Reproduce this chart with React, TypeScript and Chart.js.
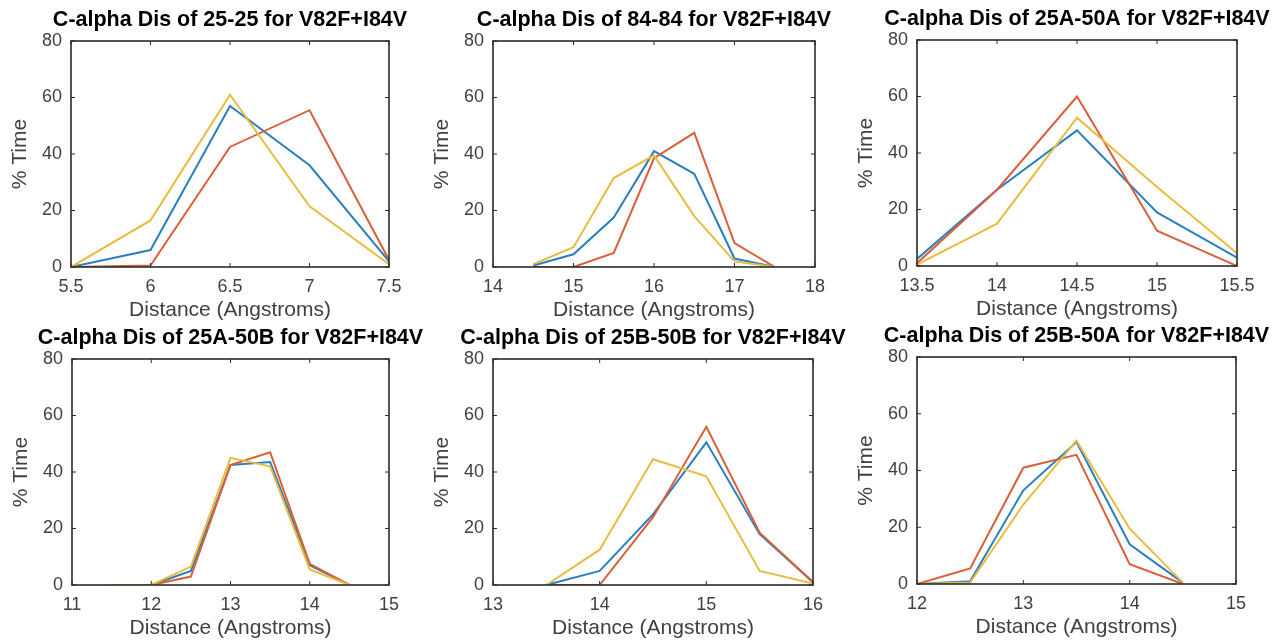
import React, { useEffect, useRef } from "react";
import { Chart, registerables } from "chart.js";

Chart.register(...registerables);

// ---------- data ----------
const yTicks = [0, 20, 40, 60, 80];

const p1Title = "C-alpha Dis of 25-25 for V82F+I84V";
const p1X = [5.5, 6, 6.5, 7, 7.5];
const p1Blue = [0, 6, 57, 36, 2];
const p1Red = [0, 0.5, 42.5, 55.5, 2.5];
const p1Yellow = [0, 16.5, 61, 21.5, 1];

const p2Title = "C-alpha Dis of 84-84 for V82F+I84V";
const p2X = [14.5, 15, 15.5, 16, 16.5, 17, 17.5];
const p2Blue = [0.5, 4.5, 17.5, 41, 33, 3, 0];
const p2Red = [0, 0, 5, 38.5, 47.5, 8.5, 0];
const p2Yellow = [1, 7, 31.5, 39.5, 18, 2, 0];

const p3Title = "C-alpha Dis of 25A-50A for V82F+I84V";
const p3X = [13.5, 14, 14.5, 15, 15.5];
const p3Blue = [2.5, 27, 48, 19, 3];
const p3Red = [1, 27, 60, 12.5, 0];
const p3Yellow = [0.5, 15, 52.5, 28, 4.5];

const p4Title = "C-alpha Dis of 25A-50B for V82F+I84V";
const p4X = [11.5, 12, 12.5, 13, 13.5, 14, 14.5];
const p4Blue = [0, 0, 5, 42.5, 43.5, 7, 0];
const p4Red = [0, 0, 3, 42.5, 47, 7.5, 0];
const p4Yellow = [0, 0, 6.5, 45, 42, 5.5, 0];

const p5Title = "C-alpha Dis of 25B-50B for V82F+I84V";
const p5X = [13.5, 14, 14.5, 15, 15.5, 16];
const p5Blue = [0, 5, 25, 50.5, 18, 1];
const p5Red = [0, 0, 24, 56, 18.5, 1];
const p5Yellow = [0, 12.5, 44.5, 38.5, 5, 0.5];

const p6Title = "C-alpha Dis of 25B-50A for V82F+I84V";
const p6X = [12, 12.5, 13, 13.5, 14, 14.5];
const p6Blue = [0, 1, 33, 50, 14, 0.5];
const p6Red = [0, 5.5, 41, 45.5, 7, 0];
const p6Yellow = [0, 0.5, 28, 50.5, 19.5, 0.5];

const xLabel = "Distance (Angstroms)";
const yLabel = "% Time";

// ---------- layout / style ----------
const FONT = '"Liberation Sans", Arial, Helvetica, sans-serif';
const BLUE = "#2a80bf";
const RED = "#d8603a";
const YELLOW = "#e8bc40";
const TEXT_GRAY = "#404040";
const Y_AXIS_W = 71;
const TOP_PAD = 41;
const RIGHT_PAD = 40;
const X_AXIS_H = 56;

type PanelCfg = {
  title: string;
  x: number[];
  blue: number[];
  red: number[];
  yellow: number[];
  xMin: number;
  xMax: number;
  xStep: number;
  plot: { l: number; r: number; t: number; b: number };
};

const panels: PanelCfg[] = [
  { title: p1Title, x: p1X, blue: p1Blue, red: p1Red, yellow: p1Yellow, xMin: 5.5, xMax: 7.5, xStep: 0.5, plot: { l: 71, r: 389, t: 41, b: 267 } },
  { title: p2Title, x: p2X, blue: p2Blue, red: p2Red, yellow: p2Yellow, xMin: 14, xMax: 18, xStep: 1, plot: { l: 493, r: 815, t: 41, b: 267 } },
  { title: p3Title, x: p3X, blue: p3Blue, red: p3Red, yellow: p3Yellow, xMin: 13.5, xMax: 15.5, xStep: 0.5, plot: { l: 917, r: 1237, t: 40, b: 266 } },
  { title: p4Title, x: p4X, blue: p4Blue, red: p4Red, yellow: p4Yellow, xMin: 11, xMax: 15, xStep: 1, plot: { l: 72, r: 389, t: 359, b: 585 } },
  { title: p5Title, x: p5X, blue: p5Blue, red: p5Red, yellow: p5Yellow, xMin: 13, xMax: 16, xStep: 1, plot: { l: 493, r: 813, t: 359, b: 585 } },
  { title: p6Title, x: p6X, blue: p6Blue, red: p6Red, yellow: p6Yellow, xMin: 12, xMax: 15, xStep: 1, plot: { l: 917, r: 1236, t: 357, b: 584 } },
];

const framePlugin = {
  id: "matlabFrame",
  afterDatasetsDraw(chart: any, _args: any, opts: any) {
    const { ctx, chartArea: a, scales } = chart;
    ctx.save();
    ctx.strokeStyle = "#2b2b2b";
    ctx.lineWidth = 1;
    const tl = 4;
    ctx.beginPath();
    scales.x.ticks.forEach((t: any) => {
      const px = scales.x.getPixelForValue(t.value);
      ctx.moveTo(px, a.bottom);
      ctx.lineTo(px, a.bottom - tl);
      ctx.moveTo(px, a.top);
      ctx.lineTo(px, a.top + tl);
    });
    scales.y.ticks.forEach((t: any) => {
      const py = scales.y.getPixelForValue(t.value);
      ctx.moveTo(a.left, py);
      ctx.lineTo(a.left + tl, py);
      ctx.moveTo(a.right, py);
      ctx.lineTo(a.right - tl, py);
    });
    ctx.stroke();
    ctx.lineWidth = 1.6;
    ctx.strokeRect(a.left, a.top, a.right - a.left, a.bottom - a.top);
    ctx.fillStyle = "#000";
    ctx.font = `bold 21.5px ${FONT}`;
    ctx.textAlign = "center";
    ctx.textBaseline = "middle";
    ctx.fillText(opts.text, (a.left + a.right) / 2, a.top - 21);
    ctx.restore();
  },
};

const fmt = (v: any) => String(Number(v));

function Panel({ cfg }: { cfg: PanelCfg }) {
  const ref = useRef<HTMLCanvasElement | null>(null);
  const left = cfg.plot.l - Y_AXIS_W;
  const top = cfg.plot.t - TOP_PAD;
  const width = cfg.plot.r - cfg.plot.l + Y_AXIS_W + RIGHT_PAD;
  const height = cfg.plot.b - cfg.plot.t + TOP_PAD + X_AXIS_H;

  useEffect(() => {
    const mk = (vals: number[]) => cfg.x.map((x, i) => ({ x, y: vals[i] }));
    const ds = (label: string, vals: number[], color: string, order: number) => ({
      label,
      data: mk(vals),
      borderColor: color,
      backgroundColor: color,
      borderWidth: 2,
      pointRadius: 0,
      tension: 0,
      order,
    });
    const chart = new Chart(ref.current as HTMLCanvasElement, {
      type: "line",
      data: {
        datasets: [ds("1", cfg.blue, BLUE, 3), ds("2", cfg.red, RED, 2), ds("3", cfg.yellow, YELLOW, 1)],
      },
      options: {
        responsive: false,
        animation: false,
        layout: { padding: { top: TOP_PAD, right: RIGHT_PAD, left: 0, bottom: 0 } },
        plugins: {
          legend: { display: false },
          tooltip: { enabled: false },
          title: { display: false },
          matlabFrame: { text: cfg.title },
        } as any,
        scales: {
          x: {
            type: "linear",
            min: cfg.xMin,
            max: cfg.xMax,
            grid: { display: false, drawTicks: false },
            border: { display: false },
            ticks: {
              stepSize: cfg.xStep,
              color: TEXT_GRAY,
              font: { family: FONT, size: 18 },
              padding: 9,
              maxRotation: 0,
              autoSkip: false,
              callback: fmt,
            },
            title: {
              display: true,
              text: xLabel,
              color: TEXT_GRAY,
              font: { family: FONT, size: 21 },
              padding: { top: 0, bottom: 0 },
            },
            afterFit: (s: any) => {
              s.height = X_AXIS_H;
            },
          },
          y: {
            type: "linear",
            min: yTicks[0],
            max: yTicks[yTicks.length - 1],
            grid: { display: false, drawTicks: false },
            border: { display: false },
            afterBuildTicks: (s: any) => {
              s.ticks = yTicks.map((v) => ({ value: v }));
            },
            ticks: {
              color: TEXT_GRAY,
              font: { family: FONT, size: 18 },
              padding: 9,
              callback: fmt,
            },
            title: {
              display: true,
              text: yLabel,
              color: TEXT_GRAY,
              font: { family: FONT, size: 21 },
              padding: { top: 8, bottom: 0 },
            },
            afterFit: (s: any) => {
              s.width = Y_AXIS_W;
            },
          },
        },
      },
      plugins: [framePlugin],
    } as any);
    return () => chart.destroy();
  }, []);

  return (
    <canvas
      ref={ref}
      width={width}
      height={height}
      style={{ position: "absolute", left, top, width, height }}
    />
  );
}

export default function App() {
  return (
    <div
      style={{
        position: "absolute",
        left: 0,
        top: 0,
        width: 1282,
        height: 640,
        overflow: "hidden",
        background: "#fff",
      }}
    >
      {panels.map((p, i) => (
        <Panel key={i} cfg={p} />
      ))}
    </div>
  );
}
